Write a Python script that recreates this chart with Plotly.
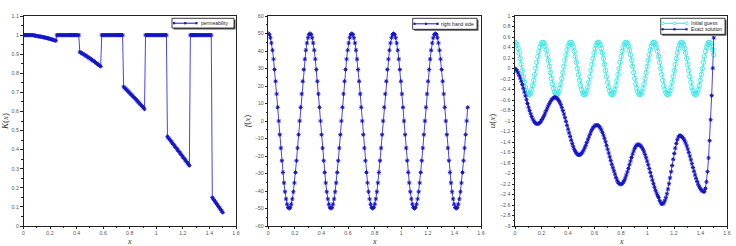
import plotly.graph_objects as go

# ---------------- data ----------------
x = [
    0, 0.0079, 0.0157, 0.0236, 0.0314, 0.0393, 0.0471, 0.0550, 0.0628, 0.0707,
    0.0785, 0.0864, 0.0942, 0.1021, 0.1100, 0.1178, 0.1257, 0.1335, 0.1414, 0.1492,
    0.1571, 0.1649, 0.1728, 0.1806, 0.1885, 0.1963, 0.2042, 0.2121, 0.2199, 0.2278,
    0.2356, 0.2435, 0.2513, 0.2592, 0.2670, 0.2749, 0.2827, 0.2906, 0.2985, 0.3063,
    0.3142, 0.3220, 0.3299, 0.3377, 0.3456, 0.3534, 0.3613, 0.3691, 0.3770, 0.3848,
    0.3927, 0.4006, 0.4084, 0.4163, 0.4241, 0.4320, 0.4398, 0.4477, 0.4555, 0.4634,
    0.4712, 0.4791, 0.4869, 0.4948, 0.5027, 0.5105, 0.5184, 0.5262, 0.5341, 0.5419,
    0.5498, 0.5576, 0.5655, 0.5733, 0.5812, 0.5890, 0.5969, 0.6048, 0.6126, 0.6205,
    0.6283, 0.6362, 0.6440, 0.6519, 0.6597, 0.6676, 0.6754, 0.6833, 0.6912, 0.6990,
    0.7069, 0.7147, 0.7226, 0.7304, 0.7383, 0.7461, 0.7540, 0.7618, 0.7697, 0.7775,
    0.7854, 0.7933, 0.8011, 0.8090, 0.8168, 0.8247, 0.8325, 0.8404, 0.8482, 0.8561,
    0.8639, 0.8718, 0.8796, 0.8875, 0.8954, 0.9032, 0.9111, 0.9189, 0.9268, 0.9346,
    0.9425, 0.9503, 0.9582, 0.9660, 0.9739, 0.9817, 0.9896, 0.9975, 1.0053, 1.0132,
    1.0210, 1.0289, 1.0367, 1.0446, 1.0524, 1.0603, 1.0681, 1.0760, 1.0838, 1.0917,
    1.0996, 1.1074, 1.1153, 1.1231, 1.1310, 1.1388, 1.1467, 1.1545, 1.1624, 1.1702,
    1.1781, 1.1859, 1.1938, 1.2017, 1.2095, 1.2174, 1.2252, 1.2331, 1.2409, 1.2488,
    1.2566, 1.2645, 1.2723, 1.2802, 1.2881, 1.2959, 1.3038, 1.3116, 1.3195, 1.3273,
    1.3352, 1.3430, 1.3509, 1.3587, 1.3666, 1.3744, 1.3823, 1.3902, 1.3980, 1.4059,
    1.4137, 1.4216, 1.4294, 1.4373, 1.4451, 1.4530, 1.4608, 1.4687, 1.4765, 1.4844,
    1.4923, 1.5,
]

permeability = [
    1, 1, 1, 1, 1, 1, 1, 1, 1, 1,
    1, 0.9963, 0.9956, 0.9948, 0.9940, 0.9931, 0.9921, 0.9911, 0.9900, 0.9889,
    0.9877, 0.9864, 0.9851, 0.9837, 0.9823, 0.9808, 0.9792, 0.9776, 0.9759, 0.9741,
    0.9723, 0.9705, 1, 1, 1, 1, 1, 1, 1, 1,
    1, 1, 1, 1, 1, 1, 1, 1, 1, 1,
    1, 1, 1, 1, 0.9114, 0.9081, 0.9048, 0.9015, 0.8980, 0.8945,
    0.8910, 0.8874, 0.8838, 0.8801, 0.8763, 0.8725, 0.8686, 0.8647, 0.8607, 0.8567,
    0.8526, 0.8485, 0.8443, 0.8401, 0.8358, 1, 1, 1, 1, 1,
    1, 1, 1, 1, 1, 1, 1, 1, 1, 1,
    1, 1, 1, 1, 1, 1, 0.7290, 0.7236, 0.7182, 0.7127,
    0.7071, 0.7015, 0.6959, 0.6902, 0.6845, 0.6787, 0.6730, 0.6671, 0.6613, 0.6554,
    0.6494, 0.6435, 0.6374, 0.6314, 0.6252, 0.6191, 0.6129, 1, 1, 1,
    1, 1, 1, 1, 1, 1, 1, 1, 1, 1,
    1, 1, 1, 1, 1, 1, 1, 1, 0.4680, 0.4610,
    0.4540, 0.4470, 0.4400, 0.4329, 0.4258, 0.4187, 0.4115, 0.4044, 0.3972, 0.3900,
    0.3827, 0.3755, 0.3682, 0.3608, 0.3535, 0.3462, 0.3389, 0.3314, 0.3240, 0.3165,
    1, 1, 1, 1, 1, 1, 1, 1, 1, 1,
    1, 1, 1, 1, 1, 1, 1, 1, 1, 1,
    1, 0.1486, 0.1409, 0.1331, 0.1254, 0.1175, 0.1098, 0.1019, 0.0941, 0.0863,
    0.0784, 0.0707,
]

rhs = [
    50, 49.38, 47.55, 44.55, 40.45, 35.36, 29.39, 22.70, 15.45, 7.82,
    0, -7.82, -15.45, -22.70, -29.39, -35.36, -40.45, -44.55, -47.55, -49.38,
    -50, -49.38, -47.55, -44.55, -40.45, -35.36, -29.39, -22.70, -15.45, -7.82,
    0, 7.82, 15.45, 22.70, 29.39, 35.36, 40.45, 44.55, 47.55, 49.38,
    50, 49.38, 47.55, 44.55, 40.45, 35.36, 29.39, 22.70, 15.45, 7.82,
    0, -7.82, -15.45, -22.70, -29.39, -35.36, -40.45, -44.55, -47.55, -49.38,
    -50, -49.38, -47.55, -44.55, -40.45, -35.36, -29.39, -22.70, -15.45, -7.82,
    0, 7.82, 15.45, 22.70, 29.39, 35.36, 40.45, 44.55, 47.55, 49.38,
    50, 49.38, 47.55, 44.55, 40.45, 35.36, 29.39, 22.70, 15.45, 7.82,
    0, -7.82, -15.45, -22.70, -29.39, -35.36, -40.45, -44.55, -47.55, -49.38,
    -50, -49.38, -47.55, -44.55, -40.45, -35.36, -29.39, -22.70, -15.45, -7.82,
    0, 7.82, 15.45, 22.70, 29.39, 35.36, 40.45, 44.55, 47.55, 49.38,
    50, 49.38, 47.55, 44.55, 40.45, 35.36, 29.39, 22.70, 15.45, 7.82,
    0, -7.82, -15.45, -22.70, -29.39, -35.36, -40.45, -44.55, -47.55, -49.38,
    -50, -49.38, -47.55, -44.55, -40.45, -35.36, -29.39, -22.70, -15.45, -7.82,
    0, 7.82, 15.45, 22.70, 29.39, 35.36, 40.45, 44.55, 47.55, 49.38,
    50, 49.38, 47.55, 44.55, 40.45, 35.36, 29.39, 22.70, 15.45, 7.82,
    0, -7.82, -15.45, -22.70, -29.39, -35.36, -40.45, -44.55, -47.55, -49.38,
    -50, -49.38, -47.55, -44.55, -40.45, -35.36, -29.39, -22.70, -15.45, -7.82,
    0, 7.82,
]

initial_guess = [
    0.5, 0.486, 0.446, 0.380, 0.294, 0.191, 0.078, -0.039, -0.155, -0.261,
    -0.354, -0.426, -0.476, -0.498, -0.494, -0.462, -0.405, -0.325, -0.227, -0.117,
    0, 0.117, 0.227, 0.325, 0.405, 0.462, 0.494, 0.498, 0.476, 0.426,
    0.354, 0.261, 0.155, 0.039, -0.078, -0.191, -0.294, -0.380, -0.446, -0.486,
    -0.5, -0.486, -0.446, -0.380, -0.294, -0.191, -0.078, 0.039, 0.155, 0.261,
    0.354, 0.426, 0.476, 0.498, 0.494, 0.462, 0.405, 0.325, 0.227, 0.117,
    0, -0.117, -0.227, -0.325, -0.405, -0.462, -0.494, -0.498, -0.476, -0.426,
    -0.354, -0.261, -0.155, -0.039, 0.078, 0.191, 0.294, 0.380, 0.446, 0.486,
    0.5, 0.486, 0.446, 0.380, 0.294, 0.191, 0.078, -0.039, -0.155, -0.261,
    -0.354, -0.426, -0.476, -0.498, -0.494, -0.462, -0.405, -0.325, -0.227, -0.117,
    0, 0.117, 0.227, 0.325, 0.405, 0.462, 0.494, 0.498, 0.476, 0.426,
    0.354, 0.261, 0.155, 0.039, -0.078, -0.191, -0.294, -0.380, -0.446, -0.486,
    -0.5, -0.486, -0.446, -0.380, -0.294, -0.191, -0.078, 0.039, 0.155, 0.261,
    0.354, 0.426, 0.476, 0.498, 0.494, 0.462, 0.405, 0.325, 0.227, 0.117,
    0, -0.117, -0.227, -0.325, -0.405, -0.462, -0.494, -0.498, -0.476, -0.426,
    -0.354, -0.261, -0.155, -0.039, 0.078, 0.191, 0.294, 0.380, 0.446, 0.486,
    0.5, 0.486, 0.446, 0.380, 0.294, 0.191, 0.078, -0.039, -0.155, -0.261,
    -0.354, -0.426, -0.476, -0.498, -0.494, -0.462, -0.405, -0.325, -0.227, -0.117,
    0, 0.117, 0.227, 0.325, 0.405, 0.462, 0.494, 0.498, 0.476, 0.426,
    0.354, 0.261,
]

exact_solution = [
    0, -0.019, -0.047, -0.084, -0.129, -0.182, -0.242, -0.306, -0.376, -0.448,
    -0.521, -0.595, -0.667, -0.737, -0.802, -0.862, -0.915, -0.961, -0.998, -1.026,
    -1.045, -1.055, -1.055, -1.046, -1.029, -1.004, -0.972, -0.935, -0.893, -0.848,
    -0.802, -0.755, -0.710, -0.669, -0.632, -0.601, -0.576, -0.559, -0.551, -0.551,
    -0.560, -0.579, -0.607, -0.644, -0.689, -0.742, -0.802, -0.867, -0.936, -1.008,
    -1.082, -1.155, -1.227, -1.297, -1.367, -1.433, -1.491, -1.541, -1.582, -1.613,
    -1.634, -1.645, -1.645, -1.635, -1.616, -1.588, -1.552, -1.510, -1.463, -1.412,
    -1.359, -1.306, -1.254, -1.206, -1.162, -1.129, -1.104, -1.087, -1.079, -1.079,
    -1.088, -1.107, -1.135, -1.172, -1.217, -1.270, -1.330, -1.395, -1.464, -1.536,
    -1.610, -1.683, -1.755, -1.825, -1.890, -1.949, -2.011, -2.074, -2.125, -2.164,
    -2.191, -2.204, -2.204, -2.192, -2.167, -2.131, -2.085, -2.030, -1.969, -1.903,
    -1.833, -1.763, -1.695, -1.631, -1.572, -1.522, -1.483, -1.458, -1.449, -1.449,
    -1.459, -1.477, -1.505, -1.542, -1.588, -1.640, -1.700, -1.765, -1.834, -1.906,
    -1.980, -2.053, -2.126, -2.195, -2.260, -2.319, -2.372, -2.417, -2.457, -2.517,
    -2.558, -2.579, -2.580, -2.560, -2.520, -2.462, -2.387, -2.297, -2.195, -2.084,
    -1.967, -1.848, -1.730, -1.618, -1.516, -1.427, -1.356, -1.305, -1.279, -1.280,
    -1.291, -1.310, -1.338, -1.375, -1.420, -1.473, -1.533, -1.598, -1.667, -1.739,
    -1.813, -1.886, -1.958, -2.028, -2.093, -2.152, -2.205, -2.250, -2.287, -2.315,
    -2.334, -2.345, -2.345, -2.284, -2.159, -1.966, -1.704, -1.375, -0.977, -0.516,
    0.007, 0.584,
]

legend_labels = ["permeability", "right hand side", "Initial guess", "Exact solution"]
x_title = "<i>x</i>"
y_titles = ["<i>K</i>(<i>x</i>)", "<i>f</i>(<i>x</i>)", "<i>u</i>(<i>x</i>)"]

# ---------------- styling ----------------
W, H = 736, 246
BLUE = "#1414c8"
BLUE_LINE = "#4545ee"
CYAN = "#3fe6e6"
FRAME = "#222222"


def px(p):
    return p / W


def py(p):
    return 1 - p / H


X1 = [px(23.5), px(236)]
X2 = [px(268.3), px(481)]
X3 = [px(515), px(727)]
YD = [py(226), py(16)]

tickfont = dict(size=5.3, color="#555555", family="Liberation Sans")
titlefont = dict(size=9, color="#333333", family="Liberation Serif")


def xaxis_style(domain, anchor):
    return dict(domain=domain, anchor=anchor, range=[0, 1.6], tick0=0, dtick=0.2,
                showline=True, linecolor=FRAME, linewidth=1, mirror=True,
                ticks="outside", ticklen=2, tickwidth=0.8, tickcolor=FRAME,
                minor=dict(ticks="outside", ticklen=1.2, dtick=0.1, tickcolor=FRAME, tickwidth=0.6),
                showgrid=False, zeroline=False, tickfont=tickfont)


def yaxis_style(domain, anchor, rng, dtick, mdtick, title):
    return dict(domain=domain, anchor=anchor, range=rng, tick0=rng[0], dtick=dtick,
                showline=True, linecolor=FRAME, linewidth=1, mirror=True,
                ticks="outside", ticklen=2.5, tickwidth=0.8, tickcolor=FRAME,
                minor=dict(ticks="outside", ticklen=1.5, dtick=mdtick, tickcolor=FRAME, tickwidth=0.6),
                showgrid=False, zeroline=False, tickfont=tickfont,
                title=dict(text=title, font=titlefont, standoff=2))


blue_marker = dict(symbol="asterisk-open", size=3.5, color=BLUE, line=dict(color=BLUE, width=1))
cyan_marker = dict(symbol="circle-open", size=4.5, color=CYAN, line=dict(color=CYAN, width=0.9))

fig = go.Figure()
fig.add_trace(go.Scatter(x=x, y=permeability, mode="lines+markers", name=legend_labels[0],
                         xaxis="x", yaxis="y", line=dict(color=BLUE_LINE, width=1),
                         marker=blue_marker, showlegend=False))
fig.add_trace(go.Scatter(x=x, y=rhs, mode="lines+markers", name=legend_labels[1],
                         xaxis="x2", yaxis="y2", line=dict(color=BLUE_LINE, width=1),
                         marker=blue_marker, showlegend=False))
fig.add_trace(go.Scatter(x=x, y=initial_guess, mode="lines+markers", name=legend_labels[2],
                         xaxis="x3", yaxis="y3", line=dict(color=CYAN, width=1),
                         marker=cyan_marker, showlegend=False))
fig.add_trace(go.Scatter(x=x, y=exact_solution, mode="lines+markers", name=legend_labels[3],
                         xaxis="x3", yaxis="y3", line=dict(color=BLUE_LINE, width=1),
                         marker=blue_marker, showlegend=False))

# ---------------- hand-drawn legends (compact, like the original) ----------------
shapes = []
annotations = []


def legend_box(x0, y0, x1, y1):
    shapes.append(dict(type="rect", xref="paper", yref="paper", layer="above",
                       x0=px(x0 + 1.5), x1=px(x1 + 1.5), y0=py(y1 + 1.5), y1=py(y0 + 1.5),
                       fillcolor="#555555", line=dict(width=0)))
    shapes.append(dict(type="rect", xref="paper", yref="paper", layer="above",
                       x0=px(x0), x1=px(x1), y0=py(y1), y1=py(y0),
                       fillcolor="white", line=dict(color="#111111", width=0.8)))


def legend_entry(xa, xb, yc, color, kind, text, tx):
    shapes.append(dict(type="line", xref="paper", yref="paper", layer="above",
                       x0=px(xa), x1=px(xb), y0=py(yc), y1=py(yc),
                       line=dict(color=color, width=1)))
    for cx in (xa, (xa + xb) / 2, xb):
        r = 1.5
        if kind == "circle":
            shapes.append(dict(type="circle", xref="paper", yref="paper", layer="above",
                               x0=px(cx - r), x1=px(cx + r), y0=py(yc + r), y1=py(yc - r),
                               fillcolor="white", line=dict(color=color, width=0.9)))
        else:
            shapes.append(dict(type="rect", xref="paper", yref="paper", layer="above",
                               x0=px(cx - 1.1), x1=px(cx + 1.1), y0=py(yc + 1.1), y1=py(yc - 1.1),
                               fillcolor=color, line=dict(width=0)))
    annotations.append(dict(xref="paper", yref="paper", x=px(tx), y=py(yc), text=text,
                            showarrow=False, xanchor="left", yanchor="middle",
                            font=dict(size=5, color="#222222", family="Liberation Sans")))


legend_box(172, 18.3, 234, 28)
legend_entry(174, 196.5, 23.2, BLUE, "star", legend_labels[0], 199)

legend_box(412.7, 18.3, 477, 29.3)
legend_entry(414.5, 437.5, 23.8, BLUE, "star", legend_labels[1], 439)

legend_box(660.7, 18.3, 725, 34.3)
legend_entry(662.5, 686.5, 23.3, CYAN, "circle", legend_labels[2], 689)
legend_entry(662.5, 686.5, 29.3, BLUE, "star", legend_labels[3], 689)

# x-axis titles placed just under the tick labels
for dom in (X1, X2, X3):
    annotations.append(dict(xref="paper", yref="paper", x=(dom[0] + dom[1]) / 2, y=0,
                            text=x_title, showarrow=False, xanchor="center", yanchor="bottom",
                            yshift=-2, font=dict(size=8, color="#333333", family="Liberation Serif")))

fig.update_layout(
    template="none",
    width=W, height=H,
    margin=dict(l=0, r=0, t=0, b=0),
    paper_bgcolor="white", plot_bgcolor="white",
    font=dict(family="Liberation Sans"),
    showlegend=False,
    xaxis=xaxis_style(X1, "y"),
    yaxis=yaxis_style(YD, "x", [0, 1.1], 0.1, 0.05, y_titles[0]),
    xaxis2=xaxis_style(X2, "y2"),
    yaxis2=yaxis_style(YD, "x2", [-60, 60], 10, 5, y_titles[1]),
    xaxis3=xaxis_style(X3, "y3"),
    yaxis3=yaxis_style(YD, "x3", [-3, 1], 0.2, 0.1, y_titles[2]),
    shapes=shapes,
    annotations=annotations,
)

fig.write_html("out.html")
